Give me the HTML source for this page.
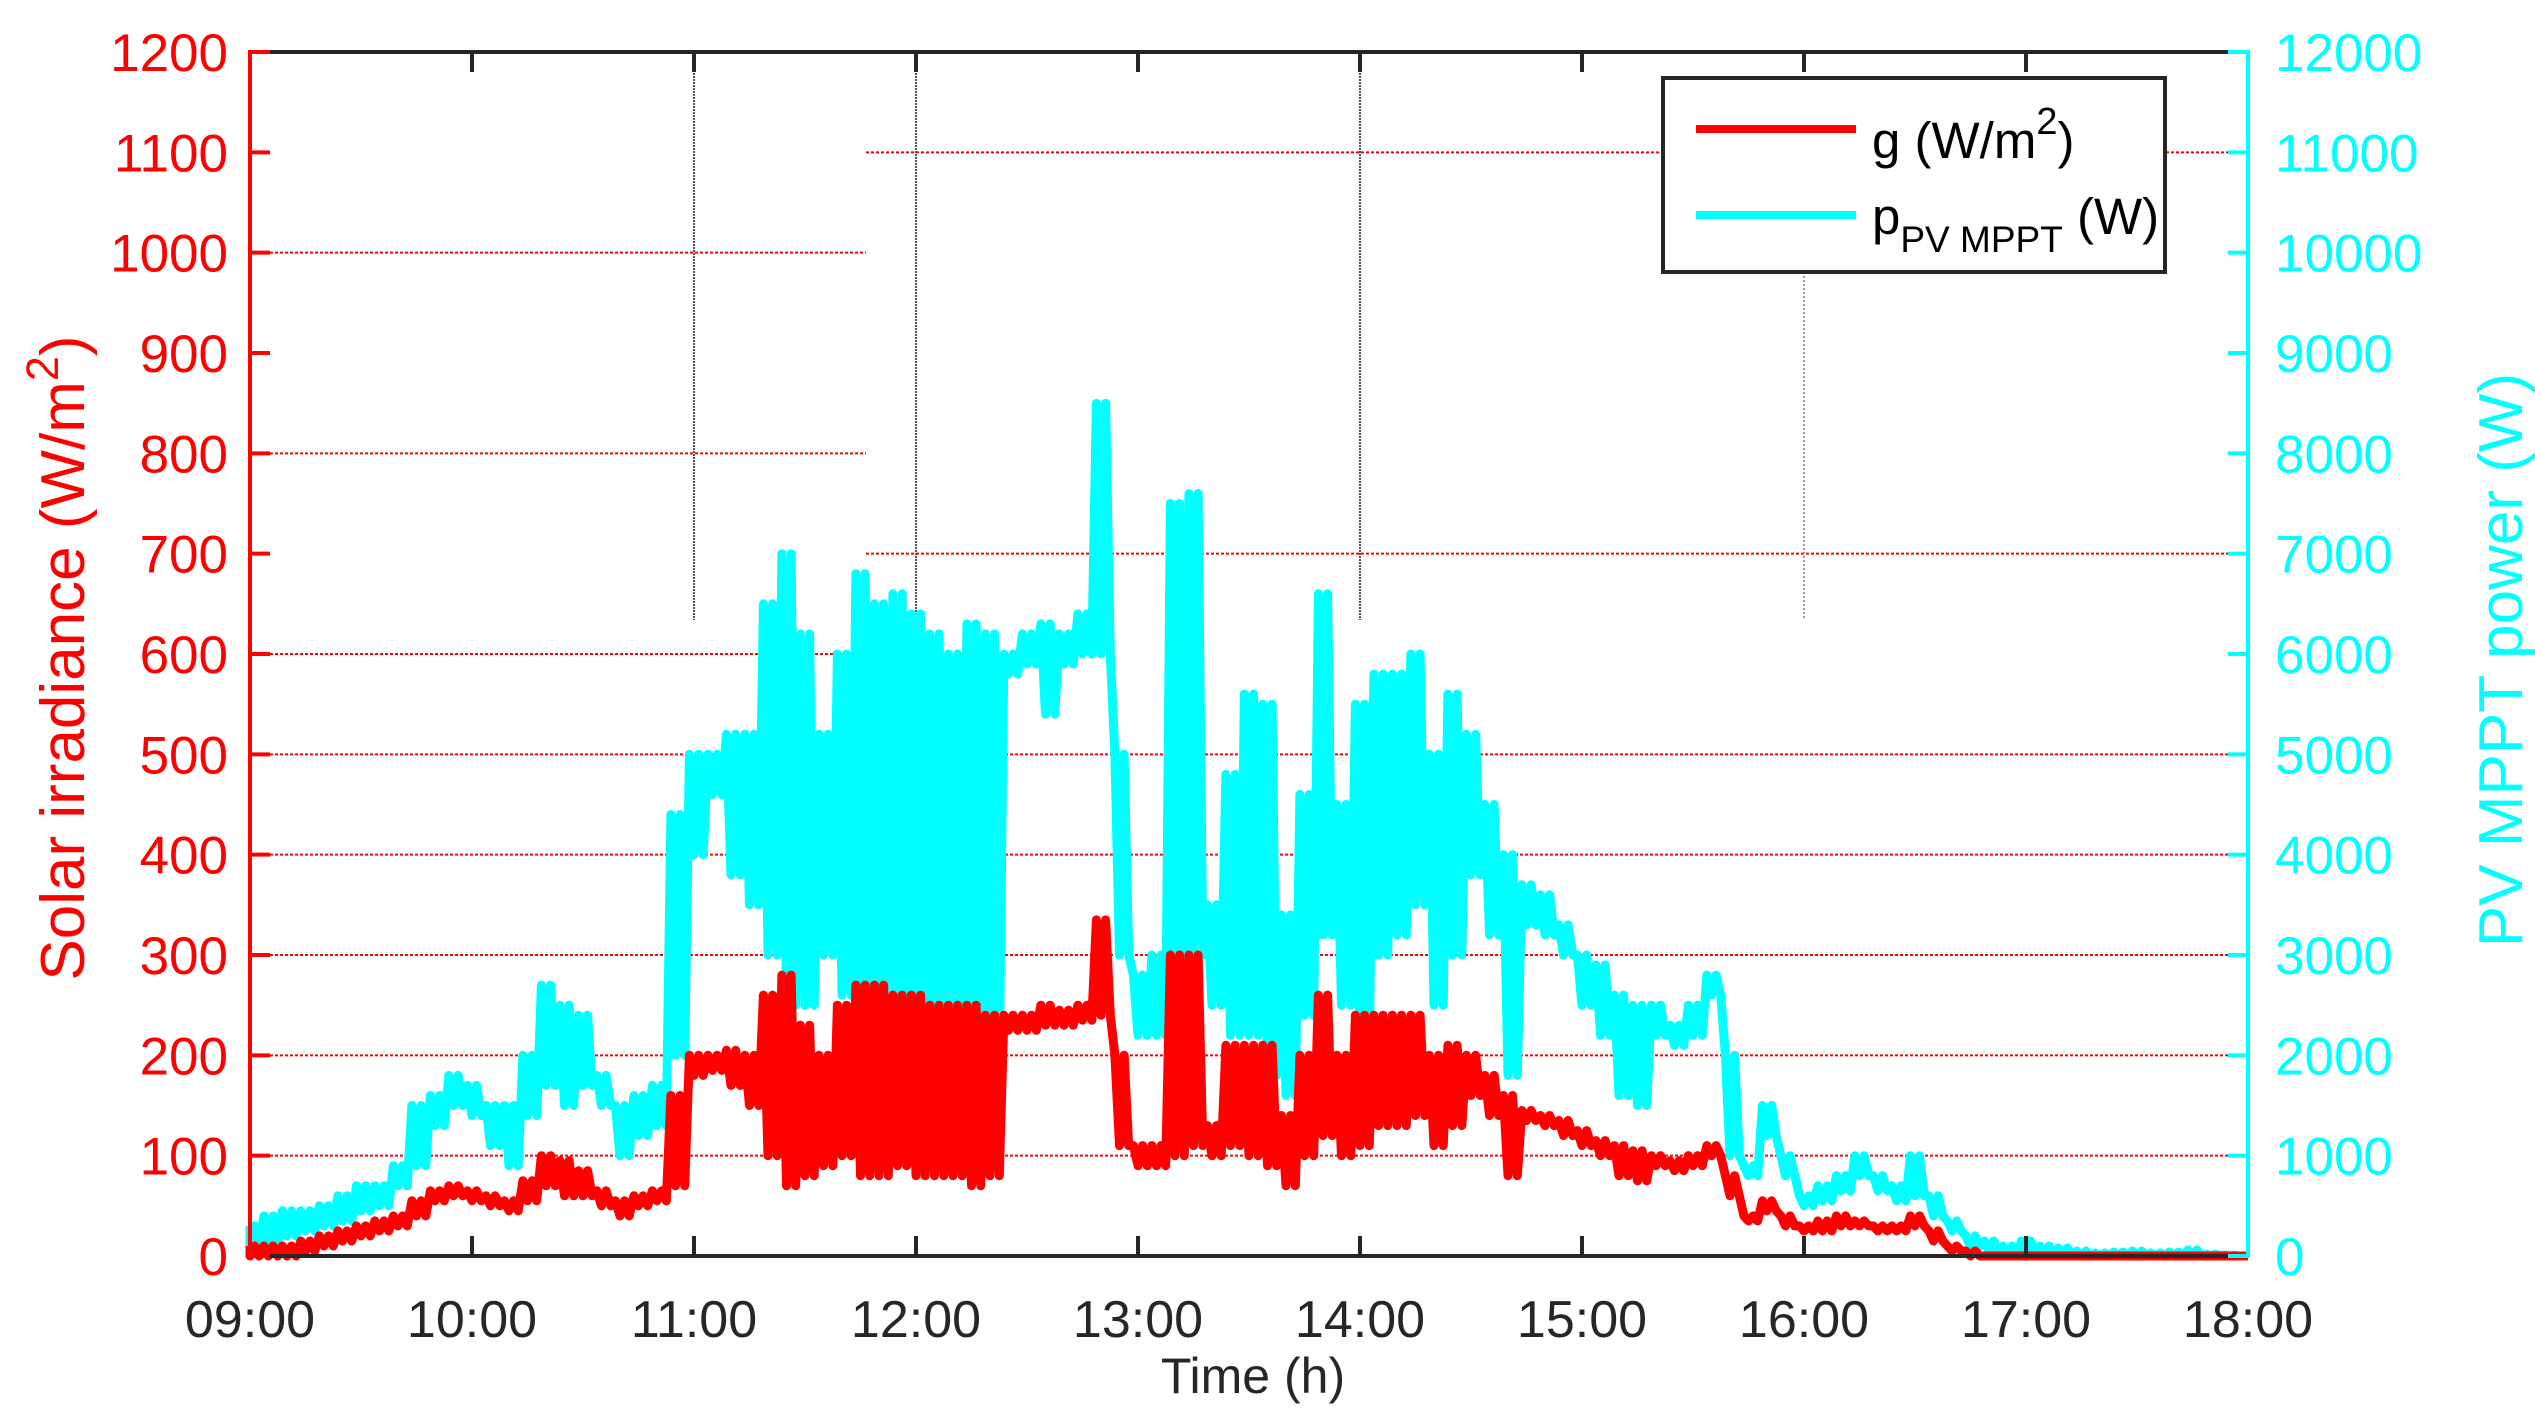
<!DOCTYPE html>
<html><head><meta charset="utf-8"><style>
html,body{margin:0;padding:0;background:#fff;}
svg{display:block;font-family:"Liberation Sans",Arial,sans-serif;}
</style></head><body>
<svg id="chart" width="2535" height="1413" viewBox="0 0 2535 1413" xmlns="http://www.w3.org/2000/svg">
<rect x="0" y="0" width="2535" height="1413" fill="#fff"/>
<g id="grid"></g>
<g id="series"></g>
<g id="axes"></g>
<g id="legend">
  <rect x="1663" y="78" width="502" height="194" fill="#fff" stroke="#262626" stroke-width="4"/>
  <line x1="1696" y1="129" x2="1856" y2="129" stroke="#ff0000" stroke-width="8"/>
  <text x="1872" y="158" font-size="51" fill="#000">g (W/m<tspan dy="-24" font-size="38">2</tspan><tspan dy="24">)</tspan></text>
  <line x1="1696" y1="215" x2="1856" y2="215" stroke="#00ffff" stroke-width="8"/>
  <text x="1872" y="234" font-size="51" fill="#000">p<tspan dy="18" font-size="37">PV MPPT</tspan><tspan dy="-18"> (W)</tspan></text>
</g>
</svg>
<script>
// ---- data (5-minute bins from 09:00 to 17:55) ----
const tickHours = ["09:00","10:00","11:00","12:00","13:00","14:00","15:00","16:00","17:00","18:00"];
const gTicks = [0,100,200,300,400,500,600,700,800,900,1000,1100,1200];
const pTicks = [0,1000,2000,3000,4000,5000,6000,7000,8000,9000,10000,11000,12000];
const pHi = [300,400,450,450,500,600,700,700,900,1500,1600,1800,
 1700,1500,1500,2000,2700,2500,2400,1800,1500,1600,1700,4400,
 5000,5000,5200,5200,6500,7000,6200,5200,6000,6800,6500,6600,
 6400,6200,6000,6300,6200,6000,6200,6300,6200,6400,8500,5000,
 2800,3000,7500,7600,3500,4800,5600,5500,3400,4600,6600,4500,
 5500,5800,5800,6000,5000,5600,5200,4500,4000,3700,3600,3300,
 3000,2900,2600,2500,2500,2300,2500,2800,2000,900,1500,1000,
 600,700,800,1000,800,700,1000,600,350,200,150,100,
 150,100,80,50,30,40,50,30,40,60,20,10];
const pLo = [100,150,200,250,300,350,450,500,700,900,1300,1500,
 1400,1100,900,1400,1700,1500,1700,1500,1000,1200,1300,2000,
 4000,4600,3800,3500,3000,2500,2500,3000,2600,2300,2300,2500,
 2300,2200,2200,2000,2000,5800,5900,5400,5900,6000,6000,3000,
 2200,2200,2500,3000,2500,2200,2200,1800,1600,2400,3200,2500,
 2000,3000,3200,3500,2500,3000,3800,3200,1800,3300,3200,3000,
 2500,2200,1600,1500,2200,2100,2200,2600,1000,800,1200,800,
 500,550,650,800,650,550,600,400,250,100,50,0,
 0,0,0,0,0,0,0,0,0,0,0,0];
const gHi = [10,10,10,15,20,25,30,35,40,55,65,70,
 65,60,55,75,100,95,85,65,55,60,65,160,
 200,200,205,200,260,280,230,200,250,270,270,260,
 260,250,250,250,240,240,240,250,245,250,335,200,
 110,110,300,300,130,210,210,210,140,200,260,200,
 240,240,240,240,200,210,200,180,160,145,140,135,
 125,115,110,105,100,95,100,110,80,40,55,40,
 30,35,40,35,30,30,40,25,10,5,0,0,
 0,0,0,0,0,0,0,0,0,0,0,0];
const gLo = [0,0,0,5,10,15,20,25,30,40,55,60,
 55,50,45,55,70,60,60,50,40,50,55,70,
 180,185,170,150,100,70,80,90,100,80,80,90,
 80,80,80,70,80,225,225,230,230,235,240,110,
 90,90,100,110,100,110,100,90,70,100,120,100,
 110,130,130,140,110,130,160,140,80,135,130,120,
 110,100,80,75,90,85,90,100,60,35,45,30,
 25,25,30,30,25,25,30,15,5,0,0,0,
 0,0,0,0,0,0,0,0,0,0,0,0];

const NS = "http://www.w3.org/2000/svg";
const L = 250, R = 2248, T = 52, B = 1256;
const xS = h => L + (h - 9) / 9 * (R - L);
const yG = v => B - v / 1200 * (B - T);
const yP = v => B - v / 12000 * (B - T);
function mk(tag, attrs, parent, txt) {
  const e = document.createElementNS(NS, tag);
  for (const k in attrs) e.setAttribute(k, attrs[k]);
  if (txt !== undefined) e.textContent = txt;
  parent.appendChild(e);
  return e;
}
const gridG = document.getElementById('grid');
const seriesG = document.getElementById('series');
const axesG = document.getElementById('axes');
const splitX = 866;

gTicks.forEach(v => {
  if (v === 0 || v === 1200 || v === 900) return;
  let x1 = L, x2 = R;
  if (v === 1000 || v === 800 || v === 600) x2 = splitX;
  if (v === 1100 || v === 700) x1 = splitX;
  const ln = mk('line', {x1: x1, x2: x2, y1: yG(v), y2: yG(v), stroke: '#ff0000', 'stroke-width': 2, 'stroke-dasharray': '3,2'}, gridG);
  
  
});
[11, 12, 14].forEach(h => {
  const ln = mk('line', {x1: xS(h), x2: xS(h), y1: T, y2: 620, stroke: '#555', 'stroke-width': 2, 'stroke-dasharray': '2,1'}, gridG);
  
  
});
{
  const ln = mk('line', {x1: xS(16), x2: xS(16), y1: 272, y2: 620, stroke: '#999', 'stroke-width': 2, 'stroke-dasharray': '2,2'}, gridG);
  
  
}

function buildPath(hi, lo, yf) {
  let d = '';
  const n = hi.length;
  for (let i = 0; i < n; i++) {
    const t0 = 9 + i / 12 - 1 / 48;
    for (let k = 0; k < 2; k++) {
      const ta = t0 + (k * 2) / 48, tb = t0 + (k * 2 + 1) / 48;
      d += (d ? 'L' : 'M') + xS(Math.max(9, ta)).toFixed(1) + ',' + yf(hi[i]).toFixed(1);
      d += 'L' + xS(Math.max(9, tb)).toFixed(1) + ',' + yf(lo[i]).toFixed(1);
    }
  }
  d += 'L' + xS(18).toFixed(1) + ',' + yf(0).toFixed(1);
  return d;
}
const pPath = mk('path', {d: buildPath(pHi, pLo, yP), fill: 'none', stroke: '#00ffff', 'stroke-width': 9, 'stroke-linejoin': 'round'}, seriesG);


const gPath = mk('path', {d: buildPath(gHi, gLo, yG), fill: 'none', stroke: '#ff0000', 'stroke-width': 9, 'stroke-linejoin': 'round'}, seriesG);



const topAxis = mk('line', {x1: L, x2: R, y1: T, y2: T, stroke: '#262626', 'stroke-width': 4}, axesG);


const botAxis = mk('line', {x1: L, x2: R, y1: B, y2: B, stroke: '#262626', 'stroke-width': 4}, axesG);


const leftAxis = mk('line', {x1: L, x2: L, y1: T - 2, y2: B + 2, stroke: '#ff0000', 'stroke-width': 4}, axesG);


const rightAxis = mk('line', {x1: R, x2: R, y1: T - 2, y2: B + 2, stroke: '#00ffff', 'stroke-width': 4}, axesG);



tickHours.forEach((lab, i) => {
  const x = xS(9 + i);
  if (i > 0 && i < tickHours.length - 1) {
    mk('line', {x1: x, x2: x, y1: B, y2: B - 20, stroke: '#262626', 'stroke-width': 4}, axesG);
    mk('line', {x1: x, x2: x, y1: T, y2: T + 20, stroke: '#262626', 'stroke-width': 4}, axesG);
  }
  const t = mk('text', {x: x, y: 1337, 'font-size': 52, 'text-anchor': 'middle', fill: '#262626'}, axesG, lab);
  
  
});
gTicks.forEach(v => {
  const y = yG(v);
  mk('line', {x1: L, x2: L + 20, y1: y, y2: y, stroke: '#ff0000', 'stroke-width': 4}, axesG);
  const t = mk('text', {x: 228, y: y + 19, 'font-size': 53, 'text-anchor': 'end', fill: '#ff0000'}, axesG, String(v));
  
  
});
pTicks.forEach(v => {
  const y = yP(v);
  mk('line', {x1: R, x2: R - 20, y1: y, y2: y, stroke: '#00ffff', 'stroke-width': 4}, axesG);
  const t = mk('text', {x: 2275, y: y + 19, 'font-size': 53, 'text-anchor': 'start', fill: '#00ffff'}, axesG, String(v));
  
  
});
const xt = mk('text', {x: 1253, y: 1393, 'font-size': 50, 'text-anchor': 'middle', fill: '#262626'}, axesG, 'Time (h)');


const yl = mk('text', {x: 0, y: 0, 'font-size': 62, 'text-anchor': 'middle', fill: '#ff0000', transform: 'translate(84,658) rotate(-90)'}, axesG);


yl.appendChild(document.createTextNode('Solar irradiance (W/m'));
mk('tspan', {dy: -26, 'font-size': 45}, yl, '2');
mk('tspan', {dy: 26}, yl, ')');
const yr = mk('text', {x: 0, y: 0, 'font-size': 62, 'text-anchor': 'middle', fill: '#00ffff', transform: 'translate(2522,660) rotate(-90)'}, axesG, 'PV MPPT power (W)');


</script>
</body></html>
